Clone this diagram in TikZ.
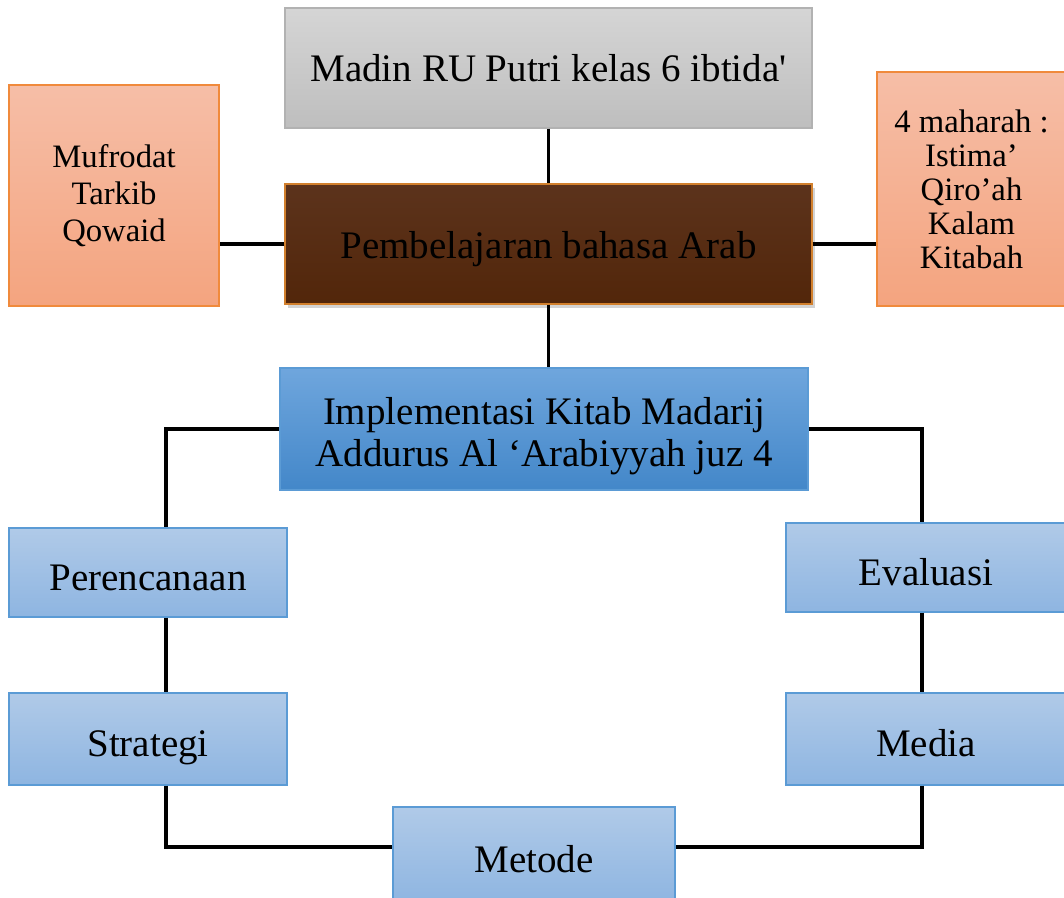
\documentclass[tikz,border=0pt]{standalone}
\usepackage{fontspec}
\setmainfont{Liberation Serif}
\usetikzlibrary{shadows}
\definecolor{greytop}{HTML}{D5D5D5}
\definecolor{greybot}{HTML}{BEBEBE}
\definecolor{browntop}{HTML}{5C331C}
\definecolor{brownbot}{HTML}{52260A}
\definecolor{peachtop}{HTML}{F6BEA7}
\definecolor{peachbot}{HTML}{F4A47F}
\definecolor{peachline}{HTML}{F08A3C}
\definecolor{bluetop}{HTML}{6FA6DD}
\definecolor{bluebot}{HTML}{4387C9}
\definecolor{paletop}{HTML}{B0CAE8}
\definecolor{palebot}{HTML}{8EB5E1}
\definecolor{blueline}{HTML}{5B9BD5}
\newcommand{\lift}{\rule{0pt}{24pt}}
\tikzset{
  box/.style={rectangle, align=center, inner sep=2pt, text=black,
    font=\fontsize{22.2}{24}\selectfont},
  headbox/.style={box, draw=black!30, line width=0.8pt, top color=greytop, bottom color=greybot},
  corebox/.style={box, draw=brown!70!orange, line width=0.6pt, top color=browntop, bottom color=brownbot,
    drop shadow={shadow xshift=0.06cm, shadow yshift=-0.08cm, opacity=0.35},
    execute at begin node={\rule{0pt}{0.94em}}},
  sidebox/.style={box, draw=peachline, line width=0.6pt, top color=peachtop, bottom color=peachbot,
    font=\fontsize{18.6}{21}\selectfont},
  mainbox/.style={box, draw=blueline, line width=0.6pt, top color=bluetop, bottom color=bluebot},
  stepbox/.style={box, draw=blueline, line width=0.6pt, top color=paletop, bottom color=palebot,
    text depth=0.25em, execute at begin node={\rule{0pt}{1.02em}}},
  link/.style={line width=2.1pt, black},
}
\begin{document}
\begin{tikzpicture}

  \useasboundingbox (0,0) rectangle (21.28,-17.94);

  % top of the tree
  \node[headbox, minimum width=10.54cm, minimum height=2.40cm] (madin) at (10.97,-1.36) {Madin RU Putri kelas 6 ibtida\textquotesingle};
  \node[corebox, minimum width=10.54cm, minimum height=2.40cm] (arab) at (10.97,-4.88) {Pembelajaran bahasa Arab};

  % side boxes
  \node[sidebox, minimum width=4.20cm, minimum height=4.42cm] (unsur) at (2.28,-3.91) {Mufrodat\\Tarkib\\Qowaid};
  \node[sidebox, minimum width=3.78cm, minimum height=4.68cm, font=\fontsize{18.6}{19.3}\selectfont] (maharah) at (19.43,-3.78) {4 maharah :\\Istima'\\Qiro'ah\\Kalam\\Kitabah};

  % implementation
  \node[mainbox, minimum width=10.56cm, minimum height=2.44cm] (kitab) at (10.88,-8.58) {\lift Implementasi Kitab Madarij\\Addurus Al `Arabiyyah juz 4};

  % steps
  \node[stepbox, minimum width=5.56cm, minimum height=1.78cm] (rencana) at (2.96,-11.45) {Perencanaan};
  \node[stepbox, minimum width=5.56cm, minimum height=1.84cm] (strategi) at (2.96,-14.78) {Strategi};
  \node[stepbox, minimum width=5.64cm, minimum height=1.92cm] (metode) at (10.68,-17.10) {Metode};
  \node[stepbox, minimum width=5.60cm, minimum height=1.78cm] (evaluasi) at (18.52,-11.35) {Evaluasi};
  \node[stepbox, minimum width=5.60cm, minimum height=1.84cm] (media) at (18.52,-14.78) {Media};

  % rails
  \coordinate (railL) at (3.32,0);
  \coordinate (railR) at (18.44,0);
  \coordinate (bottom) at (0,-16.94);

  % connectors
  \draw[link] (madin.south -| arab.north) -- (arab.north);
  \draw[link] (arab.south) -- (arab.south |- kitab.north);
  \draw[link] (arab.west) -- (arab.west -| unsur.east);
  \draw[link] (arab.east) -- (arab.east -| maharah.west);
  \draw[link] (kitab.west) -| (railL |- rencana.north);
  \draw[link] (kitab.east) -| (railR |- evaluasi.north);
  \draw[link] (railL |- rencana.south) -- (railL |- strategi.north);
  \draw[link] (railR |- evaluasi.south) -- (railR |- media.north);
  \draw[link] (railL |- strategi.south) |- (bottom -| metode.west);
  \draw[link] (railR |- media.south) |- (bottom -| metode.east);

\end{tikzpicture}
\end{document}
